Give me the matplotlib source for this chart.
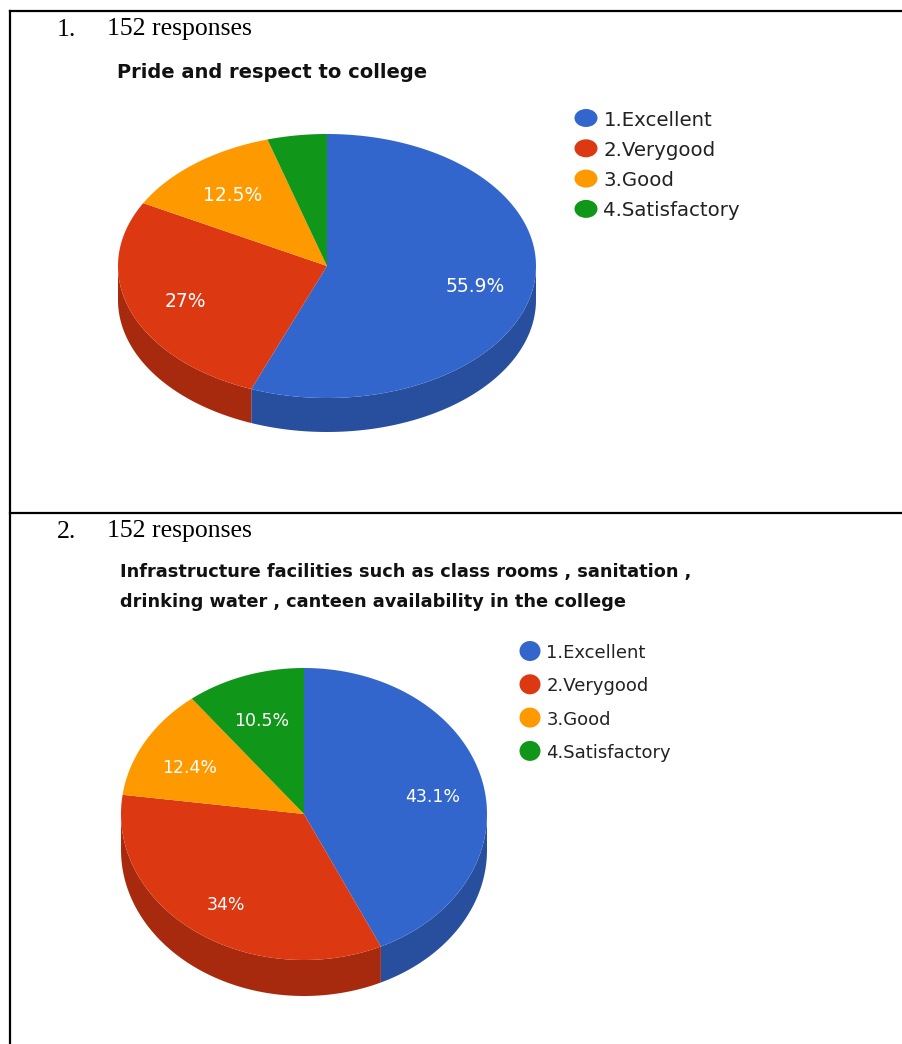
import numpy as np
import matplotlib.pyplot as plt
from matplotlib.patches import Polygon, Ellipse

labels = ['1.Excellent', '2.Verygood', '3.Good', '4.Satisfactory']
pride = [55.9, 27.0, 12.5, 4.6]
infra = [43.1, 34.0, 12.4, 10.5]
pct_text_1 = ['55.9%', '27%', '12.5%', '']
pct_text_2 = ['43.1%', '34%', '12.4%', '10.5%']

top_colors = ['#3366cc', '#dc3912', '#ff9900', '#109618']
side_colors = ['#274f9e', '#a82a0e', '#c27400', '#0c7212']

W, H = 902, 1044
fig = plt.figure(figsize=(W / 100, H / 100), dpi=100)
ax = fig.add_axes([0, 0, 1, 1])
ax.set_xlim(0, W)
ax.set_ylim(H, 0)
ax.axis('off')

serif = 'Liberation Serif'
sans = 'DejaVu Sans'


def pie3d(vals, texts, cx, cy, rx, ry, depth, fs, lab_r=0.72, dy=0):
    total = sum(vals)
    bounds = np.concatenate([[0], np.cumsum(vals) / total * 2 * np.pi])
    # side walls, only the front half shows
    for i in range(len(vals)):
        a0, a1 = bounds[i], bounds[i + 1]
        lo, hi = max(a0, np.pi / 2), min(a1, 3 * np.pi / 2)
        if hi <= lo:
            continue
        t = np.linspace(lo, hi, 80)
        xs = cx + rx * np.sin(t)
        ys = cy - ry * np.cos(t)
        pts = np.vstack([np.column_stack([xs, ys]),
                         np.column_stack([xs[::-1], ys[::-1] + depth])])
        ax.add_patch(Polygon(pts, closed=True, fc=side_colors[i], ec='none'))
    # top faces
    for i in range(len(vals)):
        a0, a1 = bounds[i], bounds[i + 1]
        t = np.linspace(a0, a1, 200)
        xs = cx + rx * np.sin(t)
        ys = cy - ry * np.cos(t)
        pts = np.vstack([[cx, cy], np.column_stack([xs, ys])])
        ax.add_patch(Polygon(pts, closed=True, fc=top_colors[i], ec='none'))
        if texts[i]:
            m = (a0 + a1) / 2
            ax.text(cx + lab_r * rx * np.sin(m),
                    cy - lab_r * ry * np.cos(m) + dy,
                    texts[i], color='white', fontsize=fs, family=sans,
                    ha='center', va='center_baseline')


def legend(x, y0, step, fs, cw, ch):
    for i, lab in enumerate(labels):
        y = y0 + i * step
        ax.add_patch(Ellipse((x, y), cw, ch, fc=top_colors[i], ec='none'))
        ax.text(x + cw / 2 + 6, y, lab, fontsize=fs, family=sans,
                color='#222222', ha='left', va='center_baseline')


# table borders
ax.plot([10, W], [11, 11], color='black', lw=1.6)
ax.plot([10, W], [513, 513], color='black', lw=1.6)
ax.plot([10, 10], [11, H], color='black', lw=1.6)

# chart 1
ax.text(57, 27, '1.', fontsize=18.5, family=serif, va='center_baseline')
ax.text(107, 27, '152 responses', fontsize=18.5, family=serif,
        va='center_baseline')
ax.text(117, 70, 'Pride and respect to college', fontsize=14, family=sans,
        weight='bold', color='#111111', va='center_baseline')
pie3d(pride, pct_text_1, 327, 266, 209, 132, 34, fs=13.5, lab_r=0.72, dy=1)
legend(586, 118, 30.3, 14.2, 23, 18)

# chart 2
ax.text(57, 529, '2.', fontsize=18.5, family=serif, va='center_baseline')
ax.text(107, 529, '152 responses', fontsize=18.5, family=serif,
        va='center_baseline')
ax.text(120, 570, 'Infrastructure facilities such as class rooms , sanitation ,',
        fontsize=12.8, family=sans, weight='bold', color='#111111',
        va='center_baseline')
ax.text(120, 600, 'drinking water , canteen availability in the college',
        fontsize=12.8, family=sans, weight='bold', color='#111111',
        va='center_baseline')
pie3d(infra, pct_text_2, 304, 814, 183, 146, 36, fs=12.5, lab_r=0.72, dy=4)
legend(530, 651, 33.3, 13, 21, 20)

fig.savefig('out.png', dpi=100)
